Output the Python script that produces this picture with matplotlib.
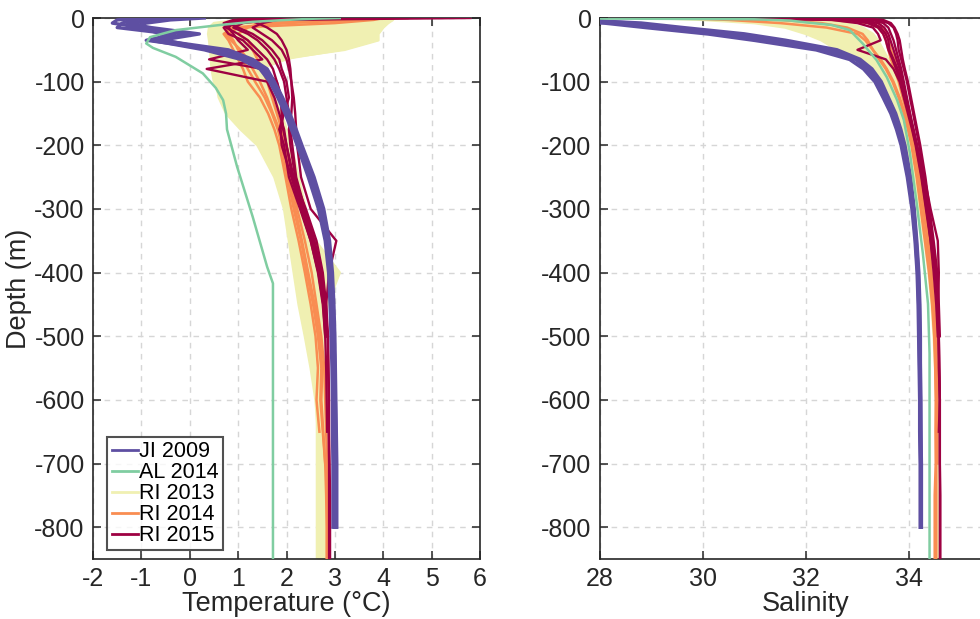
import numpy as np
import matplotlib
matplotlib.use("Agg")
import matplotlib.pyplot as plt

plt.rcParams['font.family'] = ['Liberation Sans', 'DejaVu Sans']
plt.rcParams['axes.unicode_minus'] = False

# Common depth grid (m) for the ship CTD casts
depth = [0, -3, -8, -15, -25, -35, -50, -65, -80, -100, -125, -150, -175, -200,
         -250, -300, -350, -400, -450, -500, -550, -600, -650, -700, -750, -800, -850]

# ---- JI 2009 ----
ji2009_temp = [
    [-0.8, -1.2, -1.4, -1.5, -0.4, -0.7, 0.4, 1.2, 1.5, 1.68, 1.85, 2.0, 2.12, 2.25, 2.5, 2.7, 2.83, 2.9, 2.93, 2.95, 2.97, 2.98, 2.99, 3.0, 3.0, 3.0],
    [-0.2, -0.9, -1.1, -1.3, 0.0, -0.8, 0.3, 1.05, 1.45, 1.65, 1.82, 1.97, 2.1, 2.22, 2.45, 2.66, 2.8, 2.87, 2.9, 2.92, 2.94, 2.95, 2.95, 2.96, 2.96, 2.96],
    [0.3, -0.4, -0.9, -1.2, -0.3, -0.9, 0.6, 1.25, 1.55, 1.72, 1.9, 2.05, 2.17, 2.3, 2.55, 2.75, 2.87, 2.93, 2.96, 2.98, 3.0, 3.01, 3.02, 3.03, 3.03, 3.03],
    [-1.0, -1.5, -1.6, -1.0, -0.6, -0.5, 0.5, 1.15, 1.5, 1.7, 1.88, 2.02, 2.15, 2.27, 2.52, 2.72, 2.85, 2.91, 2.94, 2.96, 2.97, 2.98, 2.98, 2.99, 2.99, 2.99],
    [-0.5, -0.7, -1.3, -0.8, 0.2, -0.6, 0.8, 1.3, 1.6, 1.75, 1.92, 2.07, 2.2, 2.32, 2.57, 2.77, 2.89, 2.95, 2.98, 3.0, 3.01, 3.02, 3.03, 3.04, 3.04, 3.04],
]
ji2009_sal = [
    [26.0, 27.2, 28.4, 29.2, 30.4, 31.3, 32.4, 32.97, 33.2, 33.4, 33.56, 33.7, 33.8, 33.88, 34.0, 34.08, 34.13, 34.17, 34.19, 34.2, 34.21, 34.22, 34.22, 34.23, 34.23, 34.23],
    [26.0, 27.5, 28.8, 29.6, 30.8, 31.6, 32.6, 33.05, 33.28, 33.46, 33.6, 33.74, 33.84, 33.92, 34.03, 34.1, 34.15, 34.19, 34.21, 34.22, 34.22, 34.23, 34.23, 34.24, 34.24, 34.24],
    [25.5, 26.8, 28.1, 28.9, 30.1, 31.0, 32.2, 32.85, 33.12, 33.34, 33.5, 33.65, 33.76, 33.85, 33.97, 34.06, 34.12, 34.16, 34.18, 34.19, 34.2, 34.21, 34.21, 34.22, 34.22, 34.22],
    [26.2, 27.6, 28.6, 29.4, 30.6, 31.45, 32.5, 33.0, 33.24, 33.43, 33.58, 33.72, 33.82, 33.9, 34.01, 34.09, 34.14, 34.18, 34.2, 34.21, 34.22, 34.22, 34.23, 34.23, 34.23, 34.23],
]

# ---- AL 2014 (single cast) ----
al2014_temp_depth = [0, -1, -3, -6, -11, -19, -30, -40, -47, -61, -87, -110, -129, -150, -175, -234, -312, -391, -417, -850]
al2014_temp = [3.1, 2.6, 2.0, 1.3, 0.62, -0.29, -0.82, -0.9, -0.76, -0.29, 0.27, 0.54, 0.69, 0.75, 0.77, 0.98, 1.3, 1.6, 1.72, 1.72]
al2014_sal_depth = [0, -2, -4, -6, -11, -19, -40, -66, -93, -129, -160, -213, -291, -370, -449, -527, -850]
al2014_sal = [26.0, 31.0, 31.7, 31.9, 32.5, 32.85, 33.1, 33.37, 33.57, 33.77, 33.9, 34.02, 34.15, 34.27, 34.37, 34.4, 34.4]

# ---- RI 2013 ----
ri2013_temp = [
    [2.0, 4.2, 4.1, 4.0, 3.9, 3.9, 3.2, 1.8, 1.5, 1.6, 1.75, 1.9, 2.0, 2.1, 2.25, 2.4, 2.55, 2.65, 2.7, 2.75, 2.78, 2.8, 2.82, 2.83, 2.84, 2.85, 2.85],
    [1.5, 1.0, 0.5, 0.4, 0.38, 0.4, 0.42, 0.44, 0.45, 0.5, 0.62, 0.9, 1.22, 1.62, 1.92, 2.0, 2.1, 2.2, 2.3, 2.48, 2.58, 2.63, 2.63, 2.63, 2.63, 2.63, 2.63],
    [1.8, 3.5, 3.3, 3.0, 2.8, 2.5, 2.1, 1.4, 0.9, 0.7, 0.9, 1.2, 1.5, 1.8, 2.05, 2.2, 2.4, 2.6, 2.65, 2.7, 2.72, 2.74, 2.76, 2.78, 2.78, 2.8, 2.8],
    [2.2, 2.6, 2.0, 1.5, 1.2, 1.0, 0.8, 0.7, 0.7, 0.8, 1.0, 1.4, 1.75, 1.95, 2.15, 2.35, 2.6, 3.1, 2.85, 2.75, 2.72, 2.7, 2.72, 2.75, 2.78, 2.82, 2.88],
    [1.2, 3.8, 3.6, 3.4, 3.2, 3.0, 2.6, 2.0, 1.2, 0.9, 0.75, 0.95, 1.3, 1.7, 2.0, 2.12, 2.25, 2.4, 2.5, 2.6, 2.65, 2.68, 2.7, 2.7, 2.72, 2.72, 2.72],
    [1.0, 2.2, 1.5, 1.0, 0.9, 0.8, 0.6, 0.55, 0.5, 0.55, 0.6, 0.75, 1.05, 1.4, 1.75, 1.95, 2.05, 2.15, 2.25, 2.38, 2.5, 2.6, 2.65, 2.66, 2.66, 2.66, 2.66],
]
ri2013_sal = [
    [30.0, 31.0, 31.8, 32.3, 32.6, 32.8, 33.0, 33.2, 33.38, 33.55, 33.7, 33.82, 33.92, 34.0, 34.12, 34.22, 34.32, 34.4, 34.46, 34.5, 34.53, 34.55, 34.56, 34.56, 34.57, 34.57, 34.57],
    [29.0, 30.0, 31.0, 31.6, 32.0, 32.3, 32.6, 32.95, 33.2, 33.42, 33.6, 33.74, 33.85, 33.94, 34.08, 34.2, 34.3, 34.38, 34.44, 34.48, 34.51, 34.53, 34.54, 34.55, 34.55, 34.55, 34.55],
    [31.5, 32.3, 32.8, 33.1, 33.3, 33.4, 33.5, 33.6, 33.68, 33.78, 33.86, 33.94, 34.02, 34.08, 34.2, 34.3, 34.45, 34.58, 34.55, 34.55, 34.57, 34.6, 34.58, 34.57, 34.57, 34.57, 34.57],
    [30.5, 31.5, 32.2, 32.7, 33.0, 33.15, 33.3, 33.45, 33.55, 33.66, 33.77, 33.87, 33.96, 34.03, 34.15, 34.25, 34.35, 34.43, 34.48, 34.52, 34.54, 34.56, 34.56, 34.56, 34.56, 34.56, 34.56],
]

# ---- RI 2014 ----
ri2014_temp = [
    [4.0, 3.8, 3.0, 1.0, 0.8, 0.9, 1.0, 1.1, 1.2, 1.35, 1.55, 1.7, 1.82, 1.9, 2.02, 2.15, 2.3, 2.42, 2.55, 2.65, 2.72, 2.7, 2.75, 2.8, 2.82, 2.83, 2.83],
    [2.5, 3.5, 2.0, 0.9, 0.7, 0.8, 0.9, 1.0, 1.1, 1.2, 1.45, 1.62, 1.75, 1.85, 1.98, 2.1, 2.25, 2.38, 2.5, 2.6, 2.65, 2.62, 2.68],
    [3.2, 2.8, 1.5, 1.2, 1.0, 1.2, 1.3, 1.4, 1.5, 1.6, 1.7, 1.8, 1.9, 1.98, 2.1, 2.22, 2.38, 2.52, 2.62, 2.72, 2.78, 2.8, 2.82, 2.84, 2.85, 2.86, 2.86],
    [3.6, 2.2, 1.0, 0.8, 0.75, 0.85, 1.05, 1.2, 1.3, 1.45, 1.6, 1.72, 1.85, 1.92, 2.05, 2.18, 2.32, 2.45, 2.58, 2.68, 2.74, 2.72, 2.76, 2.8],
]
ri2014_sal = [
    [30.0, 31.5, 32.3, 32.8, 33.1, 33.2, 33.3, 33.45, 33.57, 33.7, 33.82, 33.92, 34.0, 34.06, 34.16, 34.24, 34.32, 34.4, 34.46, 34.5, 34.52, 34.53, 34.52, 34.52, 34.5, 34.5, 34.5],
    [31.0, 32.5, 33.2, 33.4, 33.5, 33.55, 33.6, 33.65, 33.72, 33.8, 33.88, 33.96, 34.03, 34.1, 34.2, 34.28, 34.36, 34.43, 34.48, 34.52, 34.53, 34.55, 34.55],
    [29.5, 30.5, 31.5, 32.4, 33.0, 33.15, 33.3, 33.42, 33.55, 33.68, 33.8, 33.9, 33.98, 34.05, 34.15, 34.23, 34.31, 34.39, 34.45, 34.49, 34.51, 34.52, 34.52, 34.53, 34.53, 34.53, 34.53],
    [32.0, 33.0, 33.4, 33.5, 33.55, 33.6, 33.65, 33.72, 33.78, 33.85, 33.92, 33.99, 34.05, 34.12, 34.22, 34.3, 34.38, 34.44, 34.49, 34.52, 34.54, 34.54, 34.55, 34.55],
]

# ---- RI 2015 ----
ri2015_temp = [
    [5.8, 1.6, 1.1, 0.9, 1.2, 1.4, 1.6, 1.75, 1.85, 1.95, 2.0, 2.05, 2.08, 2.12, 2.2, 2.38, 2.58, 2.72, 2.8, 2.85, 2.86, 2.87, 2.87, 2.88, 2.88, 2.88, 2.88],
    [3.5, 1.3, 0.9, 0.8, 0.9, 1.0, 1.2, 0.4, 1.5, 1.8, 1.9, 1.92, 1.88, 1.9, 2.1, 2.3, 2.5, 2.66, 2.76, 2.8],
    [2.5, 1.8, 1.5, 1.3, 1.5, 1.7, 1.9, 2.0, 2.05, 2.1, 2.15, 2.18, 2.2, 2.22, 2.3, 2.5, 3.03, 2.88, 2.82, 2.84],
    [4.5, 1.0, 0.8, 1.0, 1.3, 1.5, 1.7, 1.85, 1.9, 2.0, 2.05, 1.95, 1.85, 1.95, 2.05, 2.28, 2.5, 2.65, 2.75, 2.8, 2.82, 2.83, 2.84],
    [3.0, 1.2, 0.9, 0.7, 0.8, 1.1, 1.3, 1.5, 0.35, 1.6, 1.75, 1.85, 1.95, 2.0, 2.12, 2.35, 2.55, 2.7, 2.78, 2.82],
    [1.5, 1.2, 1.4, 1.6, 1.8, 1.9, 2.0, 2.05, 2.08, 2.1, 2.12, 2.1, 2.05, 2.08, 2.18, 2.32, 2.52, 2.68, 2.78, 2.83],
    [2.0, 0.9, 0.7, 0.75, 1.0, 1.2, 1.4, 1.6, 1.72, 1.8, 1.88, 1.9, 1.93, 2.0, 2.15, 2.4, 2.62, 2.75, 2.82, 2.86, 2.87, 2.88, 2.88, 2.89, 2.9, 2.9, 2.9],
]
ri2015_sal = [
    [29.0, 33.3, 33.5, 33.6, 33.65, 33.7, 33.75, 33.8, 33.85, 33.9, 33.96, 34.02, 34.08, 34.15, 34.27, 34.36, 34.45, 34.52, 34.56, 34.58, 34.59, 34.6, 34.6, 34.6, 34.6, 34.6, 34.6],
    [32.0, 33.0, 33.3, 33.45, 33.55, 33.6, 33.62, 33.7, 33.78, 33.86, 33.93, 34.0, 34.08, 34.15, 34.26, 34.35, 34.42, 34.5, 34.55, 34.58],
    [32.5, 33.4, 33.6, 33.7, 33.75, 33.78, 33.8, 33.85, 33.9, 33.96, 34.02, 34.08, 34.14, 34.2, 34.3, 34.42, 34.56, 34.58, 34.57, 34.58],
    [31.5, 32.8, 33.2, 33.4, 33.5, 33.55, 33.6, 33.68, 33.75, 33.84, 33.92, 34.0, 34.07, 34.14, 34.25, 34.34, 34.43, 34.5, 34.54, 34.57, 34.58, 34.6, 34.58],
    [30.5, 32.5, 33.0, 33.3, 33.4, 33.45, 33.0, 33.55, 33.7, 33.82, 33.9, 33.98, 34.06, 34.13, 34.24, 34.33, 34.42, 34.48, 34.53, 34.56],
    [33.0, 33.5, 33.65, 33.72, 33.78, 33.82, 33.85, 33.88, 33.92, 33.98, 34.04, 34.1, 34.16, 34.22, 34.32, 34.4, 34.48, 34.55, 34.58, 34.6],
    [31.0, 33.1, 33.4, 33.52, 33.6, 33.64, 33.7, 33.76, 33.82, 33.88, 33.95, 34.02, 34.09, 34.16, 34.28, 34.38, 34.46, 34.53, 34.56, 34.58, 34.59, 34.6, 34.6, 34.6, 34.61, 34.61, 34.61],
]

labels = ['JI 2009', 'AL 2014', 'RI 2013', 'RI 2014', 'RI 2015']
colors = ['#5E4FA2', '#80CDA1', '#F0F0B2', '#F98D52', '#9E0142']

temp_ticks = [-2, -1, 0, 1, 2, 3, 4, 5, 6]
sal_ticks = [28, 30, 32, 34]
depth_ticks = [0, -100, -200, -300, -400, -500, -600, -700, -800]

fig = plt.figure(figsize=(9.8, 6.19), dpi=100)
ax_t = fig.add_axes([0.0949, 0.0969, 0.3949, 0.874])
ax_s = fig.add_axes([0.6122, 0.0969, 0.4204, 0.874])


def draw_group(ax, profiles, color, lw, z):
    for prof in profiles:
        ax.plot(prof, depth[:len(prof)], color=color, lw=lw, zorder=z,
                solid_joinstyle='round')


def envelope(ax, profiles, color, z):
    arr = np.array([p for p in profiles], dtype=float)
    ax.fill_betweenx(depth, arr.min(axis=0), arr.max(axis=0),
                     color=color, lw=0, zorder=z)


# Temperature panel
envelope(ax_t, ri2013_temp, colors[2], 2)
draw_group(ax_t, ri2013_temp, colors[2], 1.8, 2.1)
draw_group(ax_t, ri2014_temp, colors[3], 1.8, 3)
draw_group(ax_t, ri2015_temp, colors[4], 1.7, 4)
draw_group(ax_t, ji2009_temp, colors[0], 2.4, 5)
ax_t.plot(al2014_temp, al2014_temp_depth, color=colors[1], lw=1.8, zorder=6)

# Salinity panel
envelope(ax_s, ri2013_sal, colors[2], 2)
draw_group(ax_s, ri2013_sal, colors[2], 1.8, 2.1)
draw_group(ax_s, ri2014_sal, colors[3], 1.8, 3)
draw_group(ax_s, ri2015_sal, colors[4], 1.7, 4)
draw_group(ax_s, ji2009_sal, colors[0], 2.6, 5)
ax_s.plot(al2014_sal, al2014_sal_depth, color=colors[1], lw=1.8, zorder=6)

for ax, xt, xl, xlabel in [(ax_t, temp_ticks, (-2, 6), 'Temperature (°C)'),
                           (ax_s, sal_ticks, (28, 36), 'Salinity')]:
    ax.set_xlim(*xl)
    ax.set_ylim(-850, 0)
    ax.set_xticks(xt)
    ax.set_yticks(depth_ticks)
    ax.set_xlabel(xlabel, fontsize=19.5, color='#262626', labelpad=0)
    ax.tick_params(direction='in', top=True, right=True, length=6, width=1.1,
                   labelsize=18, colors='#262626', pad=6)
    ax.grid(True, color='#d6d6d6', linestyle=(0, (4, 4)), lw=1.0, zorder=0)
    ax.set_axisbelow(True)
    for sp in ax.spines.values():
        sp.set_color('#262626')
        sp.set_linewidth(1.2)

ax_t.set_ylabel('Depth (m)', fontsize=19.5, color='#262626', labelpad=2)

handles = [plt.Line2D([], [], color=c, lw=2) for c in colors]
leg = ax_t.legend(handles, labels, loc='lower left', bbox_to_anchor=(0.015, 0.0),
                  fontsize=15.5, frameon=True, fancybox=False, handlelength=1.2,
                  handletextpad=0.05, labelspacing=0.0, borderpad=0.2,
                  borderaxespad=0.4)
leg.get_frame().set_edgecolor('#262626')
leg.get_frame().set_linewidth(1.5)
leg.set_zorder(10)

fig.savefig('out.png', dpi=100)
